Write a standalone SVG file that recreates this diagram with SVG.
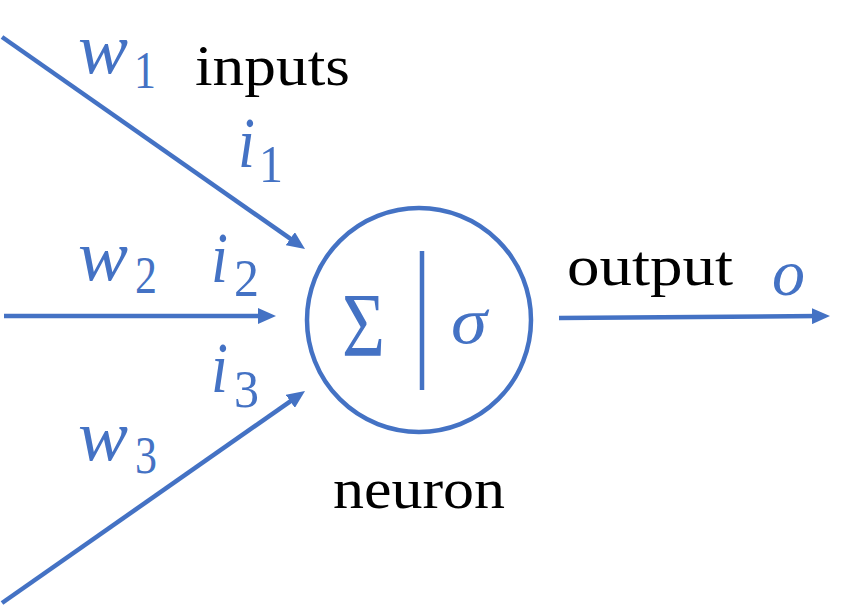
<svg xmlns="http://www.w3.org/2000/svg" width="845" height="606" viewBox="0 0 845 606">
<defs>
<marker id="ah" markerUnits="userSpaceOnUse" markerWidth="18" markerHeight="16" refX="7" refY="8" orient="auto">
<path d="M0,0 L18,8 L0,16 z" fill="#4472C4"/>
</marker>
<style>
.ln{stroke:#4472C4;stroke-width:4.5;fill:none}
.m{font-style:italic;fill:#4472C4}
.big{font-size:72px}
.sub{font-size:52px;font-style:normal}
.t{font-size:58px;fill:#000}
</style>
</defs>
<rect width="845" height="606" fill="#fff"/>
<g id="connectors">
<line class="ln" x1="2" y1="37" x2="296" y2="242.7" marker-end="url(#ah)"/>
<line class="ln" x1="4" y1="316" x2="265" y2="316" marker-end="url(#ah)"/>
<line class="ln" x1="2" y1="603" x2="296" y2="397.3" marker-end="url(#ah)"/>
<line class="ln" x1="559" y1="318" x2="819" y2="316.1" marker-end="url(#ah)"/>
</g>
<g font-family="Liberation Serif, Times New Roman, serif">
<g id="neuron">
<circle cx="419" cy="320" r="112" class="ln"/>
<line class="ln" x1="422" y1="251" x2="422" y2="390"/>
<text x="342" y="356" font-size="90" fill="#4472C4" textLength="43" lengthAdjust="spacingAndGlyphs">Σ</text>
<text x="451" y="343" class="m" font-size="66" textLength="36" lengthAdjust="spacingAndGlyphs">σ</text>
<text x="333" y="508" class="t" textLength="172" lengthAdjust="spacingAndGlyphs">neuron</text>
</g>
<g id="input1">
<text x="78" y="73" class="m big" textLength="50" lengthAdjust="spacingAndGlyphs">w</text>
<text x="134" y="88" class="m sub" textLength="22" lengthAdjust="spacingAndGlyphs">1</text>
<text x="238" y="167" class="m big" textLength="17" lengthAdjust="spacingAndGlyphs">i</text>
<text x="259" y="182" class="m sub" textLength="24" lengthAdjust="spacingAndGlyphs">1</text>
<text x="195" y="85" class="t" textLength="155" lengthAdjust="spacingAndGlyphs">inputs</text>
</g>
<g id="input2">
<text x="78" y="280" class="m big" textLength="50" lengthAdjust="spacingAndGlyphs">w</text>
<text x="135" y="293" class="m sub" textLength="22" lengthAdjust="spacingAndGlyphs">2</text>
<text x="211" y="282" class="m big" textLength="17" lengthAdjust="spacingAndGlyphs">i</text>
<text x="234" y="296" class="m sub" textLength="25" lengthAdjust="spacingAndGlyphs">2</text>
</g>
<g id="input3">
<text x="211" y="392" class="m big" textLength="17" lengthAdjust="spacingAndGlyphs">i</text>
<text x="234" y="407" class="m sub" textLength="25" lengthAdjust="spacingAndGlyphs">3</text>
<text x="78" y="460" class="m big" textLength="50" lengthAdjust="spacingAndGlyphs">w</text>
<text x="135" y="473" class="m sub" textLength="22" lengthAdjust="spacingAndGlyphs">3</text>
</g>
<g id="output">
<text x="567" y="285" class="t" textLength="166" lengthAdjust="spacingAndGlyphs">output</text>
<text x="772" y="295" class="m" font-size="66" textLength="33" lengthAdjust="spacingAndGlyphs">o</text>
</g>
</g>
</svg>
